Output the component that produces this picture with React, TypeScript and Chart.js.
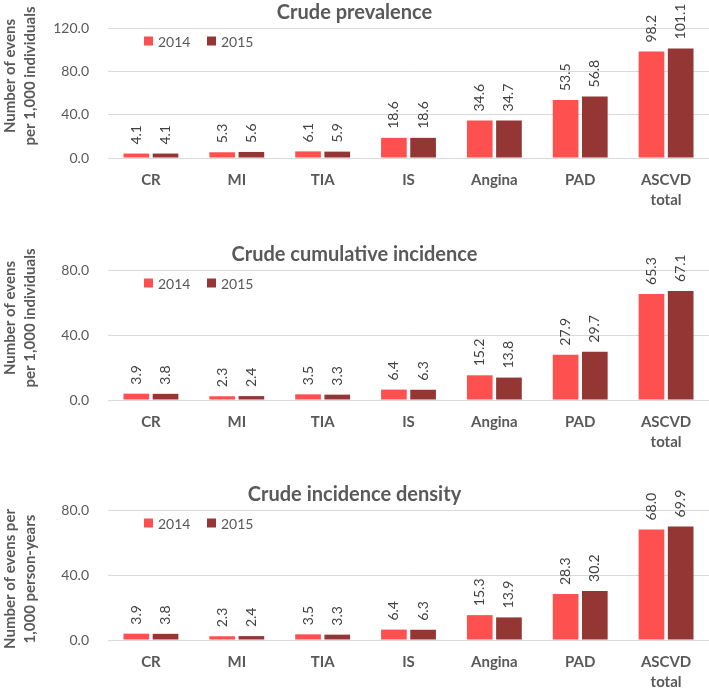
import React, { useEffect, useRef } from 'react';
import { Chart, registerables } from 'chart.js';
Chart.register(...registerables);

const categories: (string | string[])[] = ['CR', 'MI', 'TIA', 'IS', 'Angina', 'PAD', ['ASCVD', 'total']];
const seriesNames = ['2014', '2015'];
const seriesColors = ['#FF5050', '#943634'];

const prevalence2014 = [4.1, 5.3, 6.1, 18.6, 34.6, 53.5, 98.2];
const prevalence2015 = [4.1, 5.6, 5.9, 18.6, 34.7, 56.8, 101.1];
const cumIncidence2014 = [3.9, 2.3, 3.5, 6.4, 15.2, 27.9, 65.3];
const cumIncidence2015 = [3.8, 2.4, 3.3, 6.3, 13.8, 29.7, 67.1];
const density2014 = [3.9, 2.3, 3.5, 6.4, 15.3, 28.3, 68.0];
const density2015 = [3.8, 2.4, 3.3, 6.3, 13.9, 30.2, 69.9];

const panelTitles = ['Crude prevalence', 'Crude cumulative incidence', 'Crude incidence density'];
const yAxisTitles = [
  ['Number of evens', 'per 1,000 individuals'],
  ['Number of evens', 'per 1,000 individuals'],
  ['Number of evens per', '1,000 person-years'],
];
const yMaxima = [120, 80, 80];
const yStep = 40;

const panelSeries = [
  [prevalence2014, prevalence2015],
  [cumIncidence2014, cumIncidence2015],
  [density2014, density2015],
];

// layout only
const panelHeights = [230, 230, 229];
const chartTops = [28, 40, 50];
const xAxisHeights = [72, 60, 49];
const yTitleCenters = [76, 88, 119];

const FONT = 'Lato, "Open Sans", sans-serif';
const GREY = '#595959';

function decorPlugin(idx: number) {
  return {
    id: 'decor' + idx,
    afterDraw(chart: any) {
      const { ctx, chartArea } = chart;
      ctx.save();
      // title
      ctx.fillStyle = GREY;
      ctx.font = `bold 20px ${FONT}`;
      ctx.textAlign = 'center';
      ctx.textBaseline = 'middle';
      ctx.fillText(panelTitles[idx], chart.width / 2, chartArea.top - 15);
      // legend
      const ly = chartArea.top + 13;
      ctx.font = `14px ${FONT}`;
      ctx.textAlign = 'left';
      const legendX = [144, 207];
      seriesNames.forEach((name, i) => {
        ctx.fillStyle = seriesColors[i];
        ctx.fillRect(legendX[i], ly - 4.5, 9, 9);
        ctx.fillStyle = GREY;
        ctx.fillText(name, legendX[i] + 14, ly + 1);
      });
      // y axis title
      ctx.font = `bold 15px ${FONT}`;
      ctx.fillStyle = GREY;
      ctx.textAlign = 'center';
      const lines = yAxisTitles[idx];
      const lineX = [10, 30];
      lines.forEach((line, i) => {
        ctx.save();
        ctx.translate(lineX[i], yTitleCenters[idx]);
        ctx.rotate(-Math.PI / 2);
        ctx.fillText(line, 0, 0);
        ctx.restore();
      });
      // data labels
      ctx.font = `14px ${FONT}`;
      ctx.fillStyle = '#404040';
      ctx.textAlign = 'left';
      ctx.textBaseline = 'middle';
      chart.data.datasets.forEach((ds: any, di: number) => {
        const meta = chart.getDatasetMeta(di);
        meta.data.forEach((el: any, j: number) => {
          ctx.save();
          ctx.translate(el.x, el.y - 9);
          ctx.rotate(-Math.PI / 2);
          ctx.fillText(Number(ds.data[j]).toFixed(1), 0, 0);
          ctx.restore();
        });
      });
      ctx.restore();
    },
  };
}

function Panel({ idx }: { idx: number }) {
  const ref = useRef<HTMLCanvasElement>(null);
  useEffect(() => {
    if (!ref.current) return;
    const chart = new Chart(ref.current, {
      type: 'bar',
      data: {
        labels: categories as any,
        datasets: seriesNames.map((name, i) => ({
          label: name,
          data: panelSeries[idx][i],
          backgroundColor: seriesColors[i],
          categoryPercentage: 0.68,
          barPercentage: 0.88,
        })),
      },
      options: {
        animation: false,
        responsive: false,
        layout: { padding: { top: chartTops[idx], left: 0, right: 0, bottom: 0 } },
        plugins: { legend: { display: false }, title: { display: false }, tooltip: { enabled: false } },
        scales: {
          x: {
            grid: { display: false, drawTicks: false },
            border: { display: false },
            ticks: {
              color: GREY,
              font: { family: FONT, size: 15, weight: 'bold', lineHeight: 1.35 },
              padding: 12,
              maxRotation: 0,
              autoSkip: false,
            },
            afterFit(scale: any) {
              scale.height = xAxisHeights[idx];
            },
          },
          y: {
            min: 0,
            max: yMaxima[idx],
            grid: { color: '#D9D9D9', drawTicks: false },
            border: { display: false },
            ticks: {
              stepSize: yStep,
              color: GREY,
              font: { family: FONT, size: 14 },
              padding: 19,
              callback: (v: any) => Number(v).toFixed(1),
            },
            afterFit(scale: any) {
              scale.width = 108;
            },
          },
        },
      } as any,
      plugins: [decorPlugin(idx)],
    });
    return () => chart.destroy();
  }, [idx]);
  return (
    <div style={{ width: 709, height: panelHeights[idx] }}>
      <canvas ref={ref} width={709} height={panelHeights[idx]} style={{ display: 'block' }} />
    </div>
  );
}

export default function App() {
  return (
    <div style={{ position: 'absolute', left: 0, top: 0, width: 709, height: 689, background: '#fff' }}>
      <Panel idx={0} />
      <Panel idx={1} />
      <Panel idx={2} />
    </div>
  );
}
